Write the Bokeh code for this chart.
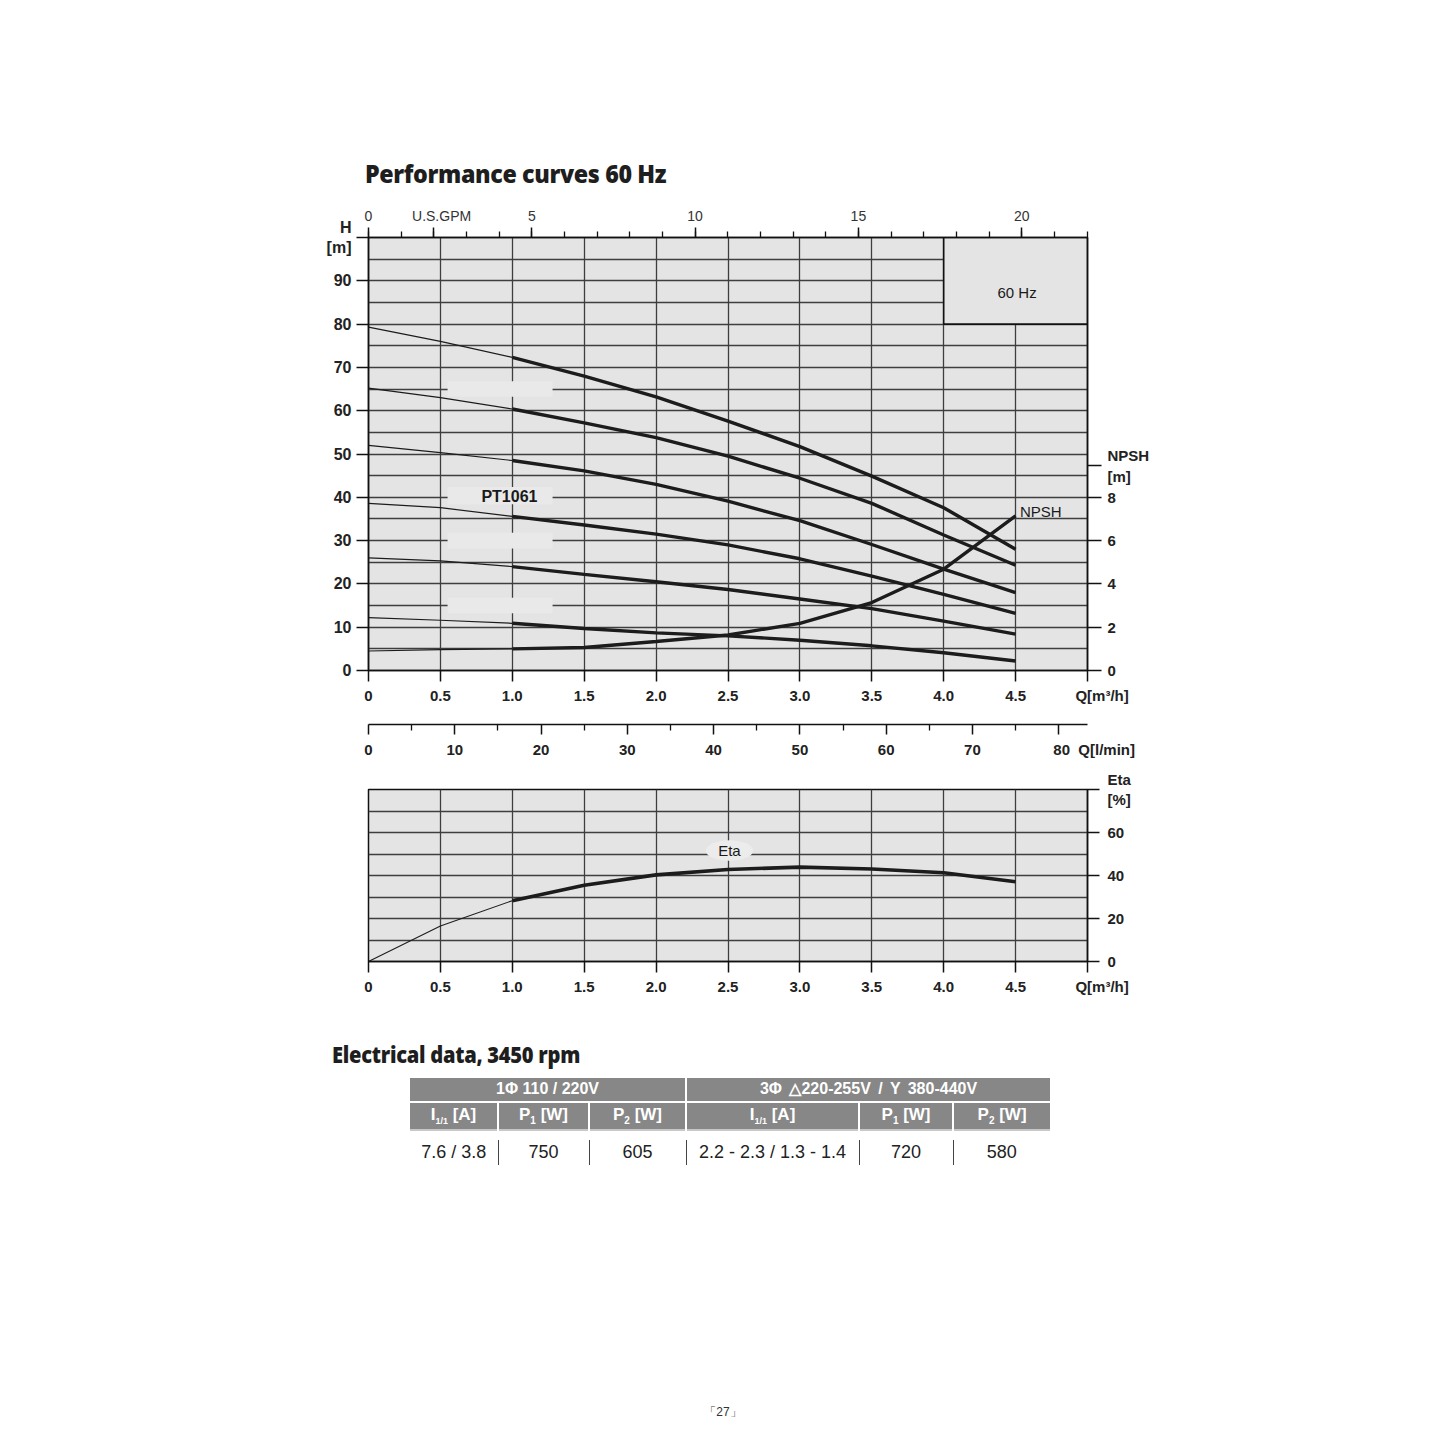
from bokeh.plotting import figure
from bokeh.models import Range1d, LinearAxis, FixedTicker, Label, Div, Grid
from bokeh.layouts import column
from bokeh.embed import file_html
from bokeh.resources import INLINE

# ---------------- data ----------------
q_m3h = [0.0, 0.5, 1.0, 1.5, 2.0, 2.5, 3.0, 3.5, 4.0, 4.5]
head_1 = [79.3, 76.0, 72.3, 68.0, 63.2, 57.6, 51.7, 44.9, 37.6, 28.0]
head_2 = [65.2, 63.0, 60.4, 57.2, 53.8, 49.5, 44.4, 38.6, 31.3, 24.3]
head_3 = [52.0, 50.3, 48.5, 46.1, 43.0, 39.1, 34.6, 29.1, 23.4, 18.0]
head_4 = [38.6, 37.6, 35.6, 33.6, 31.5, 29.0, 25.8, 21.8, 17.6, 13.2]
head_5 = [26.0, 25.3, 24.0, 22.2, 20.5, 18.7, 16.5, 14.3, 11.4, 8.4]
head_6 = [12.2, 11.6, 10.9, 9.7, 8.7, 8.0, 7.0, 5.7, 4.1, 2.2]
npsh_m = [0.90, 0.96, 1.00, 1.06, 1.34, 1.64, 2.18, 3.14, 4.68, 7.14]
eta_pct = [0.0, 16.5, 28.3, 35.5, 40.3, 42.8, 43.9, 43.0, 41.3, 37.1]

NB = "\u00a0"
q_ticks = [0.0, 0.5, 1.0, 1.5, 2.0, 2.5, 3.0, 3.5, 4.0, 4.5, 5.0]
q_labels = ["0", "0.5", "1.0", "1.5", "2.0", "2.5", "3.0", "3.5", "4.0", "4.5", NB * 7 + "Q[m³/h]"]
h_ticks = [0, 10, 20, 30, 40, 50, 60, 70, 80, 90, 100]
h_labels = ["0", "10", "20", "30", "40", "50", "60", "70", "80", "90", "H\n[m]"]
h_grid = [5 * i for i in range(21)]
npsh_ticks = [0, 2, 4, 6, 8, 9.45]
npsh_labels = ["0", "2", "4", "6", "8", "NPSH\n[m]"]
gpm_ticks = [0, 2, 5, 10, 15, 20]
gpm_labels = ["0", NB * 4 + "U.S.GPM", "5", "10", "15", "20"]
gpm_minor = list(range(0, 23))
lmin_ticks = [0, 10, 20, 30, 40, 50, 60, 70, 80]
lmin_labels = ["0", "10", "20", "30", "40", "50", "60", "70", NB * 17 + "80" + NB * 2 + "Q[l/min]"]
lmin_minor = [5, 15, 25, 35, 45, 55, 65, 75]
eta_ticks = [0, 20, 40, 60, 80]
eta_labels = ["0", "20", "40", "60", "Eta\n[%]"]
eta_grid = [10 * i for i in range(9)]

GPM_PER_M3H = 4.40287
LMIN_PER_M3H = 1000.0 / 60.0
Q_MAX = 5.0
THICK_FROM = 2  # index of Q = 1.0 m3/h

heads = [head_1, head_2, head_3, head_4, head_5, head_6]

# ---------------- style ----------------
W = 1429
NARROW = "Liberation Sans Narrow, Arial Narrow, Liberation Sans, sans-serif"
SANS = "Liberation Sans, Arial, sans-serif"
BG = "#e4e4e4"
GRID = "#3e3e3e"
INK = "#1c1c1c"
LEFT_B = 368
RIGHT_B = W - 368 - 719


def style_axis(ax, size="15px", bold=True, tick_out=11, standoff=5, font=NARROW):
    ax.major_label_text_font = font
    ax.major_label_text_font_size = size
    ax.major_label_text_font_style = "bold" if bold else "normal"
    ax.major_label_text_color = "#222222"
    ax.major_tick_out = tick_out
    ax.major_tick_in = 0
    ax.minor_tick_in = 0
    ax.minor_tick_out = 0
    ax.axis_line_color = "#111111"
    ax.axis_line_width = 1.5
    ax.major_tick_line_color = "#111111"
    ax.major_tick_line_width = 1.5
    ax.minor_tick_line_color = "#111111"
    ax.minor_tick_line_width = 1.3
    ax.major_label_standoff = standoff


def add_label(fig, x, y, text, size="15px", bold=False, font=NARROW, align="center", **kw):
    lab = Label(x=x, y=y, text=text, text_align=align, text_baseline="middle",
                text_font=font, text_font_size=size,
                text_font_style="bold" if bold else "normal",
                text_color="#1a1a1a", **kw)
    fig.add_layout(lab)
    return lab


# ---------------- main performance chart ----------------
p = figure(width=W, height=506, x_range=Range1d(0, Q_MAX), y_range=Range1d(0, 100),
           x_axis_type=None, y_axis_type=None, output_backend="svg", toolbar_location=None,
           min_border_left=LEFT_B, min_border_right=RIGHT_B, min_border_top=37, min_border_bottom=35)
p.background_fill_color = BG
p.border_fill_color = "white"
p.outline_line_color = "#111111"
p.outline_line_width = 1.5

p.add_layout(Grid(dimension=0, ticker=FixedTicker(ticks=q_ticks), grid_line_color=GRID, grid_line_width=1.3))
p.add_layout(Grid(dimension=1, ticker=FixedTicker(ticks=h_grid), grid_line_color=GRID, grid_line_width=1.3))

p.extra_y_ranges = {"npsh": Range1d(0, 20)}
p.extra_x_ranges = {"gpm": Range1d(0, Q_MAX * GPM_PER_M3H)}

ax_b = LinearAxis(ticker=FixedTicker(ticks=q_ticks),
                  major_label_overrides=dict(zip(q_ticks, q_labels)))
style_axis(ax_b, tick_out=11, standoff=5)
p.add_layout(ax_b, "below")

ax_l = LinearAxis(ticker=FixedTicker(ticks=h_ticks),
                  major_label_overrides=dict(zip(h_ticks, h_labels)))
style_axis(ax_l, size="16px", tick_out=12, standoff=5)
p.add_layout(ax_l, "left")

ax_r = LinearAxis(y_range_name="npsh", ticker=FixedTicker(ticks=npsh_ticks),
                  major_label_overrides=dict(zip(npsh_ticks, npsh_labels)))
style_axis(ax_r, tick_out=14, standoff=6)
p.add_layout(ax_r, "right")

ax_t = LinearAxis(x_range_name="gpm", ticker=FixedTicker(ticks=gpm_ticks, minor_ticks=gpm_minor),
                  major_label_overrides=dict(zip(gpm_ticks, gpm_labels)))
style_axis(ax_t, size="14px", bold=False, tick_out=10, standoff=4, font=SANS)
ax_t.minor_tick_out = 6
ax_t.major_label_text_color = "#333333"
p.add_layout(ax_t, "above")

# slightly lighter patches where the original labels were erased
patch_left = [0.55, 0.55, 0.55, 0.55]
patch_right = [1.28, 1.28, 1.28, 1.28]
patch_bottom = [63.2, 38.4, 28.2, 13.2]
patch_top = [66.8, 42.4, 31.8, 16.8]
p.quad(left=patch_left, right=patch_right, bottom=patch_bottom, top=patch_top,
       fill_color="#e9e9e9", line_color=None)

# legend box
p.quad(left=[4.0], right=[5.0], bottom=[80.0], top=[100.0],
       fill_color=BG, line_color="#111111", line_width=1.6)

for h in heads:
    p.line(q_m3h[:THICK_FROM + 1], h[:THICK_FROM + 1], line_color=INK, line_width=1.2)
    p.line(q_m3h[THICK_FROM:], h[THICK_FROM:], line_color=INK, line_width=3.4)
p.line(q_m3h[:THICK_FROM + 1], npsh_m[:THICK_FROM + 1], y_range_name="npsh",
       line_color=INK, line_width=1.2)
p.line(q_m3h[THICK_FROM:], npsh_m[THICK_FROM:], y_range_name="npsh",
       line_color=INK, line_width=3.4)

add_label(p, 0.98, 40.3, "PT1061", size="16px", bold=True, font=SANS)
add_label(p, 4.51, 87.4, "60 Hz", size="15px", font=SANS)
add_label(p, 4.53, 36.7, "NPSH", size="15px", font=SANS, align="left")

# ---------------- l/min axis strip ----------------
pl = figure(width=W, height=54, x_range=Range1d(0, Q_MAX * LMIN_PER_M3H), y_range=Range1d(0, 1),
            x_axis_type=None, y_axis_type=None, output_backend="svg", toolbar_location=None,
            min_border_left=LEFT_B, min_border_right=RIGHT_B, min_border_top=0, min_border_bottom=36)
pl.outline_line_color = None
pl.background_fill_color = "white"
pl.border_fill_color = "white"
ax_lm = LinearAxis(ticker=FixedTicker(ticks=lmin_ticks, minor_ticks=lmin_minor),
                   major_label_overrides=dict(zip(lmin_ticks, lmin_labels)))
style_axis(ax_lm, tick_out=10, standoff=6)
ax_lm.minor_tick_out = 6
pl.add_layout(ax_lm, "below")

# ---------------- efficiency chart ----------------
pe = figure(width=W, height=240, x_range=Range1d(0, Q_MAX), y_range=Range1d(0, 80),
            x_axis_type=None, y_axis_type=None, output_backend="svg", toolbar_location=None,
            min_border_left=LEFT_B, min_border_right=RIGHT_B, min_border_top=29, min_border_bottom=39)
pe.background_fill_color = BG
pe.border_fill_color = "white"
pe.outline_line_color = "#111111"
pe.outline_line_width = 1.5
pe.add_layout(Grid(dimension=0, ticker=FixedTicker(ticks=q_ticks), grid_line_color=GRID, grid_line_width=1.3))
pe.add_layout(Grid(dimension=1, ticker=FixedTicker(ticks=eta_grid), grid_line_color=GRID, grid_line_width=1.3))

ax_eb = LinearAxis(ticker=FixedTicker(ticks=q_ticks),
                   major_label_overrides=dict(zip(q_ticks, q_labels)))
style_axis(ax_eb, tick_out=11, standoff=5)
pe.add_layout(ax_eb, "below")
ax_er = LinearAxis(ticker=FixedTicker(ticks=eta_ticks),
                   major_label_overrides=dict(zip(eta_ticks, eta_labels)))
style_axis(ax_er, tick_out=12, standoff=8)
pe.add_layout(ax_er, "right")

# light halo behind the in-plot "Eta" label
eta_lab_x, eta_lab_y = 2.51, 51.6
pe.ellipse(x=[eta_lab_x], y=[eta_lab_y], width=0.33, height=9.5,
           fill_color="#ececec", line_color=None)

pe.line(q_m3h[:THICK_FROM + 1], eta_pct[:THICK_FROM + 1], line_color=INK, line_width=1.1)
pe.line(q_m3h[THICK_FROM:], eta_pct[THICK_FROM:], line_color=INK, line_width=3.6)

add_label(pe, eta_lab_x, eta_lab_y, "Eta", size="15px")

# ---------------- titles, table, footer ----------------
title_div = Div(width=W, height=200, margin=0, text=(
    '<div style="box-sizing:content-box;padding-top:158px;padding-left:365px;white-space:nowrap;line-height:30px;">'
    '<span style="display:inline-block;transform:scaleX(0.93);transform-origin:left;'
    'font-family:\'Open Sans\',sans-serif;font-weight:800;font-size:25px;line-height:30px;'
    'color:#1e1e1e;letter-spacing:-0.4px;">Performance curves 60 Hz</span></div>'))

col_w = [88, 91, 97, 173, 94, 97]
hdr1 = ["1Φ 110 / 220V", "3Φ △220-255V / Y 380-440V"]
hdr2 = ["I<sub style='font-size:9px'>1/1</sub> [A]", "P<sub style='font-size:10px'>1</sub> [W]",
        "P<sub style='font-size:10px'>2</sub> [W]", "I<sub style='font-size:9px'>1/1</sub> [A]",
        "P<sub style='font-size:10px'>1</sub> [W]", "P<sub style='font-size:10px'>2</sub> [W]"]
row_vals = ["7.6 / 3.8", "750", "605", "2.2 - 2.3 / 1.3 - 1.4", "720", "580"]

cell_font = "font-family:'Liberation Sans Narrow','Arial Narrow','Liberation Sans',sans-serif;"
cols = "".join(f"<col style='width:{w}px'>" for w in col_w)
r1 = (f"<tr style='height:21px;background:#878787;color:white;font-weight:bold;font-size:16px;'>"
      f"<td colspan='3' style='text-align:center;border-right:2px solid white;padding:0'>{hdr1[0]}</td>"
      f"<td colspan='3' style='text-align:center;padding:0;word-spacing:3px'>{hdr1[1]}</td></tr>")
r2 = "<tr style='height:24px;background:#878787;color:white;font-weight:bold;font-size:17px;'>"
for i, t in enumerate(hdr2):
    br = "border-right:2px solid white;" if i < 5 else ""
    r2 += f"<td style='text-align:center;border-top:2px solid white;{br}padding:0'>{t}</td>"
r2 += "</tr>"
r_sp = "<tr style='height:10px'><td colspan='6' style='border-top:2px solid #c8c8c8;padding:0'></td></tr>"
r3 = "<tr style='height:24px;font-size:18px;color:#222;'>"
for i, t in enumerate(row_vals):
    br = "border-right:1.5px solid #444;" if i < 5 else ""
    r3 += f"<td style='text-align:center;{br}padding:0'>{t}</td>"
r3 += "</tr>"

table_div = Div(width=W, height=220, margin=0, text=(
    '<div style="box-sizing:content-box;padding-top:41px;padding-left:332px;white-space:nowrap;'
    'line-height:26px;height:26px;">'
    '<span style="display:inline-block;transform:scaleX(0.915);transform-origin:left;'
    'font-family:\'Open Sans\',sans-serif;font-weight:800;font-size:22px;line-height:26px;'
    'color:#1e1e1e;letter-spacing:-0.3px;">Electrical data, 3450 rpm</span></div>'
    f'<table style="margin-left:410px;margin-top:11px;border-collapse:collapse;table-layout:fixed;'
    f'width:640px;{cell_font}">{cols}{r1}{r2}{r_sp}{r3}</table>'))

footer_div = Div(width=W, height=205, margin=0, text=(
    '<div style="box-sizing:content-box;padding-top:184px;text-align:center;width:1446px;'
    'font-family:\'Liberation Sans\',sans-serif;font-size:12px;line-height:16px;color:#333;">「27」</div>'))

layout = column(title_div, p, pl, pe, table_div, footer_div, spacing=0)

open("out.html", "w").write(file_html(layout, INLINE))
